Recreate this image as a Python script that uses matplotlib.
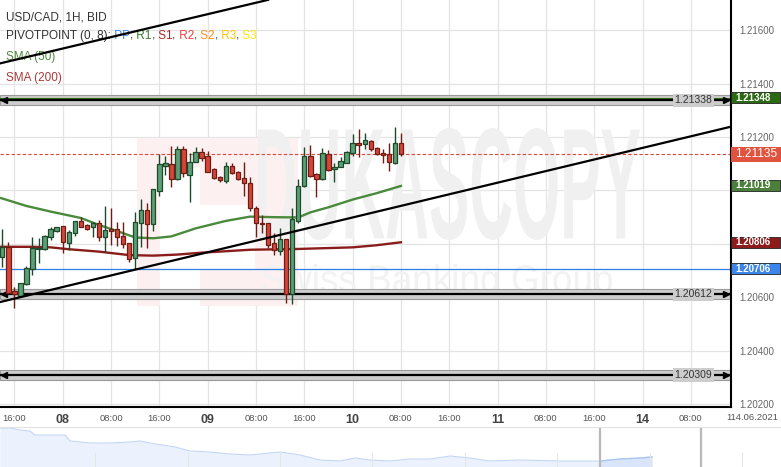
import matplotlib
matplotlib.use("Agg")
import matplotlib.pyplot as plt
import numpy as np
from matplotlib.patches import Rectangle, PathPatch
from matplotlib.textpath import TextPath
from matplotlib.font_manager import FontProperties
import matplotlib.transforms as mtransforms

plt.rcParams['font.family'] = ['Liberation Sans', 'DejaVu Sans']

W, H = 781, 467

# ---------------- data (hourly candles, 7 Jun 14:00 -> 10 Jun 08:00) ----------------
opens = [1.20752, 1.20789, 1.20623, 1.20606, 1.20650, 1.20706, 1.20781, 1.20780, 1.20826, 1.20849,
         1.20867, 1.20802, 1.20841, 1.20886, 1.20870, 1.20862, 1.20877, 1.20826, 1.20856, 1.20856,
         1.20831, 1.20802, 1.20746, 1.20879, 1.20927, 1.20873, 1.20999, 1.21093, 1.21098, 1.21042,
         1.21154, 1.21058, 1.21108, 1.21145, 1.21130, 1.21079, 1.21049, 1.21037, 1.21092, 1.21068,
         1.21046, 1.21027, 1.20933, 1.20878, 1.20877, 1.20802, 1.20774, 1.20818, 1.20612, 1.20886,
         1.21016, 1.21129, 1.21062, 1.21042, 1.21136, 1.21079, 1.21089, 1.21104, 1.21140, 1.21178,
         1.21174, 1.21187, 1.21158, 1.21140, 1.21136, 1.21104, 1.21178]
highs = [1.20856, 1.20808, 1.20638, 1.20655, 1.20717, 1.20825, 1.20821, 1.20833, 1.20864, 1.20864,
         1.20867, 1.20852, 1.20886, 1.20900, 1.20874, 1.20882, 1.20889, 1.20942, 1.20934, 1.20881,
         1.20881, 1.20803, 1.20921, 1.20967, 1.20952, 1.21004, 1.21136, 1.21129, 1.21167, 1.21167,
         1.21167, 1.21140, 1.21162, 1.21158, 1.21149, 1.21084, 1.21054, 1.21108, 1.21102, 1.21074,
         1.21108, 1.21049, 1.20942, 1.20908, 1.20878, 1.20841, 1.20861, 1.20818, 1.20933, 1.21042,
         1.21162, 1.21170, 1.21065, 1.21158, 1.21152, 1.21104, 1.21127, 1.21149, 1.21212, 1.21229,
         1.21214, 1.21189, 1.21164, 1.21154, 1.21178, 1.21237, 1.21214]
lows = [1.20714, 1.20616, 1.20560, 1.20602, 1.20646, 1.20683, 1.20730, 1.20778, 1.20815, 1.20846,
        1.20765, 1.20778, 1.20829, 1.20862, 1.20852, 1.20826, 1.20811, 1.20771, 1.20796, 1.20792,
        1.20786, 1.20733, 1.20705, 1.20789, 1.20786, 1.20849, 1.20981, 1.21058, 1.21014, 1.21039,
        1.21052, 1.20958, 1.21107, 1.21112, 1.21069, 1.21043, 1.21032, 1.21027, 1.21062, 1.21039,
        1.20981, 1.20924, 1.20826, 1.20841, 1.20783, 1.20758, 1.20758, 1.20580, 1.20574, 1.20877,
        1.21013, 1.21052, 1.20977, 1.21039, 1.21074, 1.21033, 1.21087, 1.21103, 1.21129, 1.21124,
        1.21155, 1.21148, 1.21133, 1.21102, 1.21074, 1.21099, 1.21129]
closes = [1.20789, 1.20617, 1.20611, 1.20652, 1.20711, 1.20783, 1.20786, 1.20831, 1.20855, 1.20862,
          1.20808, 1.20843, 1.20886, 1.20862, 1.20855, 1.20877, 1.20826, 1.20852, 1.20849, 1.20825,
          1.20798, 1.20743, 1.20883, 1.20927, 1.20873, 1.21004, 1.21098, 1.21102, 1.21042, 1.21154,
          1.21064, 1.21108, 1.21145, 1.21120, 1.21070, 1.21046, 1.21039, 1.21092, 1.21064, 1.21042,
          1.21027, 1.20933, 1.20878, 1.20873, 1.20796, 1.20778, 1.20818, 1.20614, 1.20893, 1.21016,
          1.21129, 1.21055, 1.21042, 1.21140, 1.21077, 1.21089, 1.21109, 1.21143, 1.21178, 1.21172,
          1.21189, 1.21154, 1.21136, 1.21132, 1.21106, 1.21178, 1.21135]

sma50_x = [-1, 0, 4, 8, 13, 16, 19, 22, 25, 28, 32, 37, 41, 45, 49, 51, 54, 58, 62, 66]
sma50_y = [1.20976, 1.20970, 1.20942, 1.20921, 1.20897, 1.20871, 1.20848, 1.20824, 1.20821, 1.20828,
           1.20858, 1.20886, 1.20902, 1.20900, 1.20899, 1.20918, 1.20937, 1.20966, 1.20990, 1.21017]
sma200_x = [-1, 5, 8, 11, 16, 21, 25, 29, 33, 41, 49, 58, 62, 66]
sma200_y = [1.20789, 1.20789, 1.20787, 1.20780, 1.20771, 1.20758, 1.20756, 1.20760, 1.20767,
            1.20778, 1.20781, 1.20787, 1.20795, 1.20806]

trend_upper_x = [-0.38, 44.0]
trend_upper_y = [1.21476, 1.21714]
trend_lower_x = [-0.38, 120.65]
trend_lower_y = [1.20582, 1.21239]

pivot_bands = [1.21338, 1.20612, 1.20309]
pivot_band_labels = ['1.21338', '1.20612', '1.20309']
pp_level = 1.20706
r1_level = 1.21348
last_price = 1.21135

price_tags = [  # value, text, colour
    (1.21348, '1.21348', '#2b6a12'),
    (1.21019, '1.21019', '#4c7f3c'),
    (1.20806, '1.20806', '#8c1c1c'),
    (1.20706, '1.20706', '#3a84ea'),
]

xtick_pos = [2, 10, 18, 26, 34, 42, 50, 58, 66, 74, 82, 90, 98, 106, 114]
xtick_labels = ['16:00', '08', '08:00', '16:00', '09', '08:00', '16:00', '10', '08:00',
                '16:00', '11', '08:00', '16:00', '14', '08:00']
ytick_vals = [1.202, 1.204, 1.206, 1.208, 1.210, 1.212, 1.214, 1.216]
ytick_labels = ['1.20200', '1.20400', '1.20600', '', '', '1.21200', '1.21400', '1.21600']

nav_x = [0, 10, 20, 30, 35, 60, 65, 70, 90, 110, 130, 140, 150, 175, 190, 210, 230, 250, 270,
         280, 300, 320, 340, 355, 370, 390, 410, 430, 450, 470, 490, 520, 560, 600, 620, 640, 652]
nav_v = [39, 39, 37, 36, 32, 32, 32, 26, 24, 24, 25, 26, 24, 20, 16, 15, 13, 12, 14,
         15, 12, 7, 6, 9, 7, 6, 8, 8, 11, 9, 6, 7, 6, 6, 8, 9, 10]

# ---------------- figure ----------------
fig = plt.figure(figsize=(W / 100, H / 100), dpi=100)
fig.patch.set_facecolor('white')
pix = mtransforms.Affine2D().scale(1 / W, -1 / H).translate(0, 1) + fig.transFigure

ax = fig.add_axes([0, 60 / H, 731 / W, 407 / H])
ax.set_facecolor('white')
ax.set_xlim(-0.38, 120.65)
ax.set_ylim(1.20189, 1.217135)

# grid
for xp in xtick_pos:
    ax.axvline(xp, color='#e4e4e4', lw=0.9, zorder=0)
for yv in ytick_vals:
    ax.axhline(yv, color='#e4e4e4', lw=0.9, zorder=0)

# watermark logo
def wm_rect(x0, y0, x1, y1, color):
    ax.add_patch(Rectangle((x0, y0), x1 - x0, y1 - y0, transform=pix, color=color, lw=0, zorder=0.2))

wm_rect(137, 138, 298, 306, '#fcf0f0')
wm_rect(160, 168, 200, 306, 'white')
wm_rect(200, 205, 255, 270, 'white')

def fit_text(s, box, color, weight='bold'):
    fp = FontProperties(family='Liberation Sans', weight=weight)
    tp = TextPath((0, 0), s, size=100, prop=fp)
    bb = tp.get_extents()
    x0, y0, x1, y1 = box
    sx = (x1 - x0) / bb.width
    sy = (y1 - y0) / bb.height
    tr = mtransforms.Affine2D().translate(-bb.x0, -bb.y0).scale(sx, -sy).translate(x0, y1)
    ax.add_patch(PathPatch(tr.transform_path(tp), transform=pix, facecolor=color, lw=0, zorder=0.3))

fit_text('DUKASCOPY', (258, 128, 640, 240), '#f0f0f0')
fit_text('Swiss Banking Group', (262, 264, 612, 300), '#f2f2f2', weight='normal')

# pivot bands
bh_px = 1 / 26693.0
blend = mtransforms.blended_transform_factory(ax.transAxes, ax.transData)
for lvl, lab in zip(pivot_bands, pivot_band_labels):
    ax.add_patch(Rectangle((-0.38, lvl - 5 * bh_px), 121.1, 10 * bh_px, facecolor='#cdcdcd',
                           edgecolor='#9a9a9a', lw=0.8, zorder=1))
    ax.axhline(lvl, color='black', lw=1.6, zorder=1.2)
    ax.plot([0.2], [lvl], marker='<', color='black', ms=4.5, zorder=1.3, clip_on=False)
    ax.plot([119.9], [lvl], marker='>', color='black', ms=4.5, zorder=1.3, clip_on=False)
    ax.text(712 / 731, lvl, lab, transform=blend,
            ha='right', va='center', fontsize=7.5, color='#333', zorder=1.4,
            bbox=dict(boxstyle='square,pad=0.15', facecolor='#cdcdcd', edgecolor='none'))

ax.axhline(r1_level, color='#2b6a12', lw=0.8, zorder=1.25)
ax.axhline(pp_level, color='#2f7fe8', lw=0.9, zorder=1.5)
ax.axhline(last_price, color='#d9483b', lw=0.8, ls=(0, (3, 2)), zorder=1.5)

# SMA lines
ax.plot(sma200_x, sma200_y, color='#8b1c1c', lw=1.7, zorder=2)
ax.plot(sma50_x, sma50_y, color='#4a8a3c', lw=1.7, zorder=2)

# candles
idx = np.arange(len(opens))
o = np.array(opens); c = np.array(closes); h = np.array(highs); l = np.array(lows)
up = c >= o
for is_up, fill, edge in [(True, '#5c9e76', '#1c4a2a'), (False, '#d4463a', '#6e1c14')]:
    m = up == is_up
    ax.vlines(idx[m], l[m], h[m], color=edge, lw=1.0, zorder=3)
    bottoms = np.minimum(o[m], c[m])
    heights = np.maximum(np.abs(c[m] - o[m]), 0.00003)
    ax.bar(idx[m], heights, bottom=bottoms, width=0.72, facecolor=fill, edgecolor=edge, lw=0.9, zorder=3.2)

# trend lines
ax.plot(trend_upper_x, trend_upper_y, color='black', lw=1.6, zorder=4)
ax.plot(trend_lower_x, trend_lower_y, color='black', lw=1.6, zorder=4)

# axes styling
for s in ['top', 'left']:
    ax.spines[s].set_visible(False)
for s in ['bottom', 'right']:
    ax.spines[s].set_color('black')
    ax.spines[s].set_linewidth(1.5)
    ax.spines[s].set_zorder(6)

ax.yaxis.tick_right()
ax.set_yticks(ytick_vals)
ax.set_yticklabels(ytick_labels)
ax.tick_params(axis='y', length=0, pad=6, labelsize=7, labelcolor='#666')
ax.set_xticks(xtick_pos)
ax.set_xticklabels(xtick_labels)
ax.tick_params(axis='x', length=0, pad=5, labelsize=6.8, labelcolor='#555')
for t in ax.get_xticklabels():
    if len(t.get_text()) == 2:
        t.set_fontsize(9)
        t.set_fontweight('bold')
        t.set_color('#444')

# right price tags
for val, txt, col in price_tags:
    hh = 11 * bh_px
    ax.add_patch(Rectangle((1.0, val - hh / 2), 49 / 731, hh, transform=blend, facecolor=col,
                           edgecolor='#222', lw=0.6, clip_on=False, zorder=7))
    ax.text(1.0 + 4 / 731, val, txt, transform=blend, color='white', fontsize=7, fontweight='bold',
            va='center', ha='left', zorder=8, clip_on=False)
hh = 15 * bh_px
ax.add_patch(Rectangle((1.0, last_price - hh / 2), 50 / 731, hh, transform=blend, facecolor='#e0533f',
                       edgecolor='none', clip_on=False, zorder=7))
ax.text(1.0 + 4 / 731, last_price, '1.21135', transform=blend, color='white', fontsize=8.6,
        va='center', ha='left', zorder=8, clip_on=False)

# legend texts (top-left)
def chain(x, y, parts, fs=8.5):
    t = ax.text(x, y, parts[0][0], color=parts[0][1], fontsize=fs, transform=pix, va='baseline',
                ha='left', zorder=3.5)
    for s, col in parts[1:]:
        t = ax.annotate(s, xy=(1, 0), xycoords=t, color=col, fontsize=fs, va='bottom', ha='left',
                        zorder=3.5)

chain(6, 20.5, [('USD/CAD, 1H, BID', '#333')])
chain(6, 39, [('PIVOTPOINT (0, 8):', '#333'), (' PP', '#3d85f0'), (',', '#333'), (' R1', '#3a7a2a'),
              (',', '#333'), (' S1', '#b52424'), (',', '#333'), (' R2', '#f03c3c'), (',', '#333'),
              (' S2', '#ff8c1a'), (',', '#333'), (' R3', '#ffc400'), (',', '#333'), (' S3', '#ffe600')])
chain(6, 60, [('SMA (50)', '#4e8a3a')])
chain(6, 80.5, [('SMA (200)', '#b03a3a')])

fig.text(752 / W, 1 - 417 / H, '114.06.2021', fontsize=6.8, color='#555', ha='center', va='center')

# navigator
nav = fig.add_axes([0, 0, 1, 40 / H])
nav.set_xlim(0, W)
nav.set_ylim(0, 40)
nav.axis('off')
nav.fill_between(nav_x, nav_v, 0, color='#ebf2fd', lw=0)
nav.plot(nav_x, nav_v, color='#c3d6f5', lw=0.8)
sel_x = [xx for xx in nav_x if xx >= 600]
sel_v = [vv for xx, vv in zip(nav_x, nav_v) if xx >= 600]
nav.fill_between(sel_x, sel_v, 0, color='#d8e5fb', lw=0)
nav.plot(sel_x, sel_v, color='#a9c4f2', lw=0.9)
for xv in [95, 188, 280, 372, 465, 557, 650, 742]:
    nav.plot([xv, xv], [0, 14], color='#e6e6e6', lw=0.8)
for xv in [600, 701]:
    nav.plot([xv, xv], [0, 40], color='#b8b8b8', lw=1.6)
fig.add_artist(plt.Line2D([0, 1], [40 / H, 40 / H], transform=fig.transFigure, color='#e2e2e2', lw=0.8))

fig.savefig('out.png', dpi=100, facecolor='white')
